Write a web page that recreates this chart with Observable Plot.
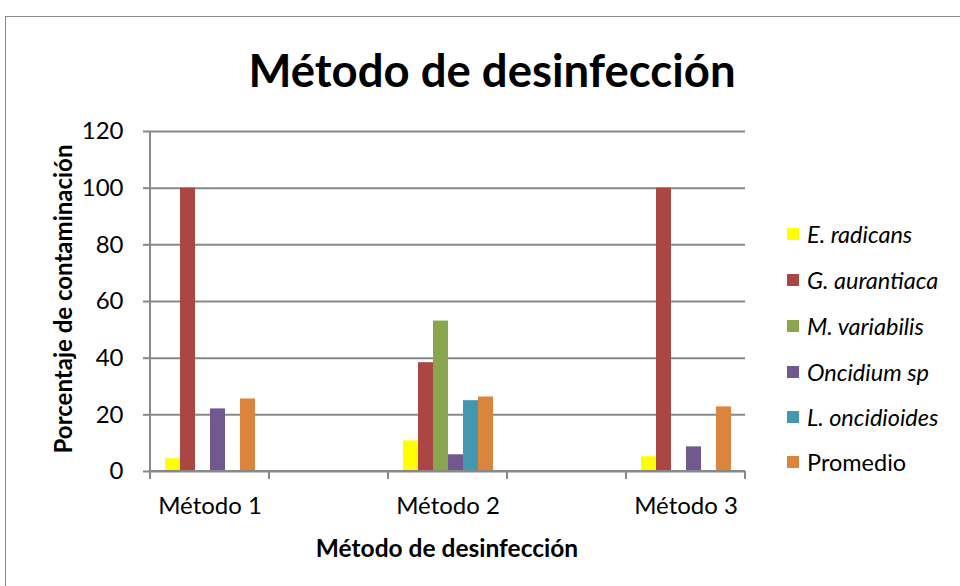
<!DOCTYPE html>
<html><head><meta charset="utf-8">
<script src="https://cdn.jsdelivr.net/npm/d3@7"></script>
<script src="https://cdn.jsdelivr.net/npm/@observablehq/plot@0.6"></script>
<style>
body{margin:0;background:#fff;font-family:Lato,"Open Sans",sans-serif;color:#000;}
#wrap{position:relative;width:960px;height:586px;overflow:hidden;background:#fff;}
#border{position:absolute;left:5px;top:16px;width:980px;height:620px;border:1.5px solid #8a8a8a;box-sizing:border-box;}
#chart{position:absolute;left:0;top:0;}
.c{position:absolute;transform:translate(-50%,-50%);white-space:nowrap;}
#title{left:492px;top:68.5px;font-weight:bold;font-size:45.5px;}
#ylab{left:62px;top:299px;font-weight:bold;font-size:24px;transform:translate(-50%,-50%) rotate(-90deg);}
#xlab{left:447px;top:547px;font-weight:bold;font-size:24.5px;}
.leg{position:absolute;left:787px;height:12px;}
.leg .sw{position:absolute;left:0;top:0;width:12px;height:12px;}
.leg .tx{position:absolute;left:20px;top:6px;transform:translateY(-50%);font-size:23.5px;white-space:nowrap;}
</style>
</head><body>
<div id="wrap">
  <div id="border"></div>
  <div id="chart"></div>
  <div id="title" class="c">Método de desinfección</div>
  <div id="ylab" class="c">Porcentaje de contaminación</div>
  <div id="xlab" class="c">Método de desinfección</div>
  <div id="legend"></div>
</div>
<script>
const methods = ["Método 1", "Método 2", "Método 3"];
const species = ["E. radicans", "G. aurantiaca", "M. variabilis", "Oncidium sp", "L. oncidioides", "Promedio"];
const italicNames = [true, true, true, true, true, false];
const colors = ["#FFFF00", "#AA4643", "#89A54E", "#71588F", "#4198AF", "#DB843D"];
const eRadicans    = [4.5, 10.8, 5.2];
const gAurantiaca  = [100, 38.4, 100];
const mVariabilis  = [0, 53.1, 0];
const oncidiumSp   = [22.1, 5.9, 8.7];
const lOncidioides = [0, 25.0, 0];
const promedio     = [25.6, 26.3, 22.8];
const yTicks = [0, 20, 40, 60, 80, 100, 120];

const seriesValues = [eRadicans, gAurantiaca, mVariabilis, oncidiumSp, lOncidioides, promedio];
const rows = [];
methods.forEach((m, i) => species.forEach((s, j) => rows.push({method: m, species: s, value: seriesValues[j][i]})));

const gray = "#888888";
const W = 960, H = 586, mL = 150, mR = 215, mT = 131, mB = 115;
const chart = Plot.plot({
  width: W, height: H,
  marginLeft: mL, marginRight: mR, marginTop: mT, marginBottom: mB,
  style: {fontFamily: "Lato, 'Open Sans', sans-serif", fontSize: "24px", color: "#000", background: "transparent", overflow: "visible"},
  fx: {domain: methods, paddingInner: 0.5, paddingOuter: 0, axis: null, label: null},
  x: {domain: species, axis: null, paddingInner: 0, paddingOuter: 0.72},
  y: {domain: [0, 120], axis: null},
  color: {domain: species, range: colors},
  marks: [
    Plot.axisY(yTicks, {tickSize: -(W - mL - mR), tickFormat: () => "", stroke: gray, strokeWidth: 2, strokeOpacity: 1, label: null}),
    Plot.barY(rows, {fx: "method", x: "species", y: "value", fill: "species"}),
    Plot.axisY(yTicks, {tickSize: 7, tickPadding: 20, stroke: gray, strokeWidth: 2, fill: "#000", fontSize: 24, label: null}),
    Plot.axisFx({anchor: "bottom", tickSize: 0, tickPadding: 25, fontSize: 24, fill: "#000", label: null})
  ]
});
document.getElementById("chart").appendChild(chart);

// category boundary ticks, baseline and the vertical axis line, placed with Plot's own scales
const fxs = chart.scale("fx"), ys = chart.scale("y");
const edges = [];
methods.forEach(m => { edges.push(fxs.apply(m)); edges.push(fxs.apply(m) + fxs.bandwidth); });
const svg = d3.select(chart.tagName.toLowerCase() === "svg" ? chart : chart.querySelector("svg"));
const g = svg.append("g").attr("stroke", gray).attr("stroke-width", 2);
g.append("line").attr("x1", edges[0]).attr("x2", edges[edges.length - 1])
  .attr("y1", ys.apply(0)).attr("y2", ys.apply(0));
g.selectAll("line.t").data(edges).join("line").attr("class", "t")
  .attr("x1", d => d).attr("x2", d => d)
  .attr("y1", ys.apply(0)).attr("y2", ys.apply(0) + 8);
g.append("line").attr("x1", edges[0]).attr("x2", edges[0])
  .attr("y1", ys.apply(0) + 1).attr("y2", ys.apply(120));

// legend
const leg = d3.select("#legend");
const rowY = [234, 280, 326, 372, 417, 462];
species.forEach((s, i) => {
  const d = leg.append("div").attr("class", "leg").style("top", (rowY[i] - 6) + "px");
  d.append("div").attr("class", "sw").style("background", colors[i]);
  d.append("div").attr("class", "tx").style("font-style", italicNames[i] ? "italic" : "normal").text(s);
});
</script>
</body></html>
